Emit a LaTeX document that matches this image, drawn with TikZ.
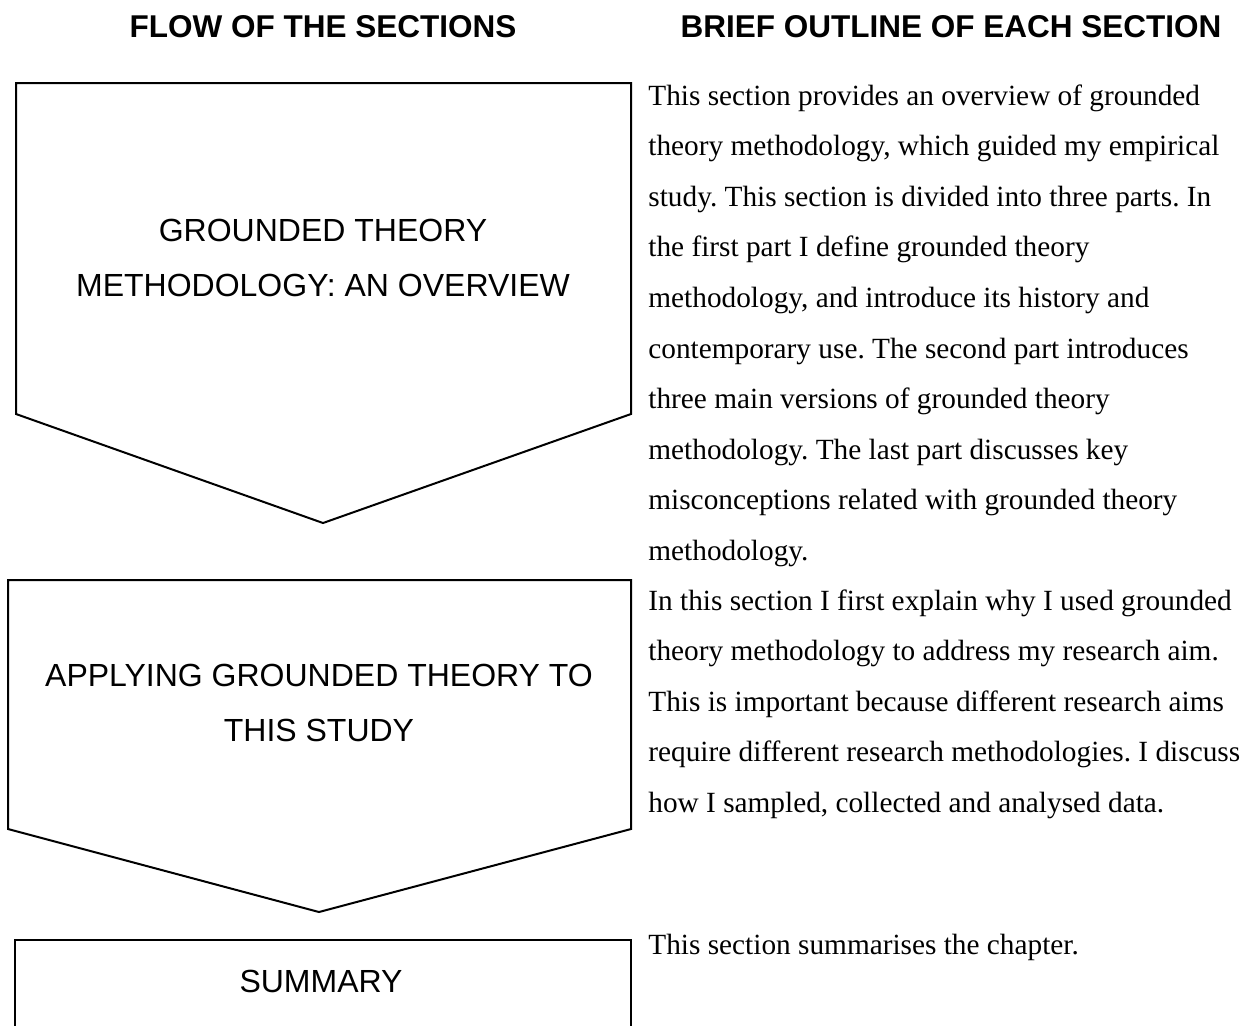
\documentclass[tikz,border=0pt]{standalone}
\usepackage{fontspec}
\setmainfont{Liberation Serif}
\setsansfont{Liberation Sans}
\frenchspacing
\begin{document}
\begin{tikzpicture}[x=0.5pt,y=-0.5pt,
  sectionshape/.style={draw=black, line width=1pt, line join=miter},
  header/.style={font=\sffamily\bfseries\fontsize{15.75}{19}\selectfont, inner sep=0pt},
  boxlabel/.style={font=\sffamily\fontsize{16}{27.5}\selectfont, align=center, inner sep=0pt},
  outline/.style={font=\rmfamily\frenchspacing\fontsize{14.65}{25.3}\selectfont, align=left, inner sep=0pt, anchor=north west}]
\useasboundingbox (0,0) rectangle (1257,1025);
\fill[white] (0,0) rectangle (1257,1025);
% headers
\node[header] (h1) at (323,27) {FLOW OF THE SECTIONS};
\node[header] (h2) at (951,27) {BRIEF OUTLINE OF EACH SECTION};
% section shapes
\draw[sectionshape] (16,83) -- (631,83) -- (631,414) -- (323,523) -- (16,414) -- cycle;
\node[boxlabel] (s1) at (323,258) {GROUNDED THEORY\\METHODOLOGY: AN OVERVIEW};
\draw[sectionshape] (8,580) -- (631,580) -- (631,829) -- (319,912) -- (8,829) -- cycle;
\node[boxlabel] (s2) at (319,703) {APPLYING GROUNDED THEORY TO\\THIS STUDY};
\draw[sectionshape] (15,1030) -- (15,940) -- (631,940) -- (631,1030);
\node[boxlabel] (s3) at (321,981) {SUMMARY};
% outlines
\node[outline] (o1) at (648,84) {This section provides an overview of grounded\\
theory methodology, which guided my empirical\\
study. This section is divided into three parts. In\\
the first part I define grounded theory\\
methodology, and introduce its history and\\
contemporary use. The second part introduces\\
three main versions of grounded theory\\
methodology. The last part discusses key\\
misconceptions related with grounded theory\\
methodology.};
\node[outline] (o2) at (648,589) {In this section I first explain why I used grounded\\
theory methodology to address my research aim.\\
This is important because different research aims\\
require different research methodologies. I discuss\\
how I sampled, collected and analysed data.};
\node[outline] (o3) at (648,934) {This section summarises the chapter.};
\end{tikzpicture}
\end{document}
